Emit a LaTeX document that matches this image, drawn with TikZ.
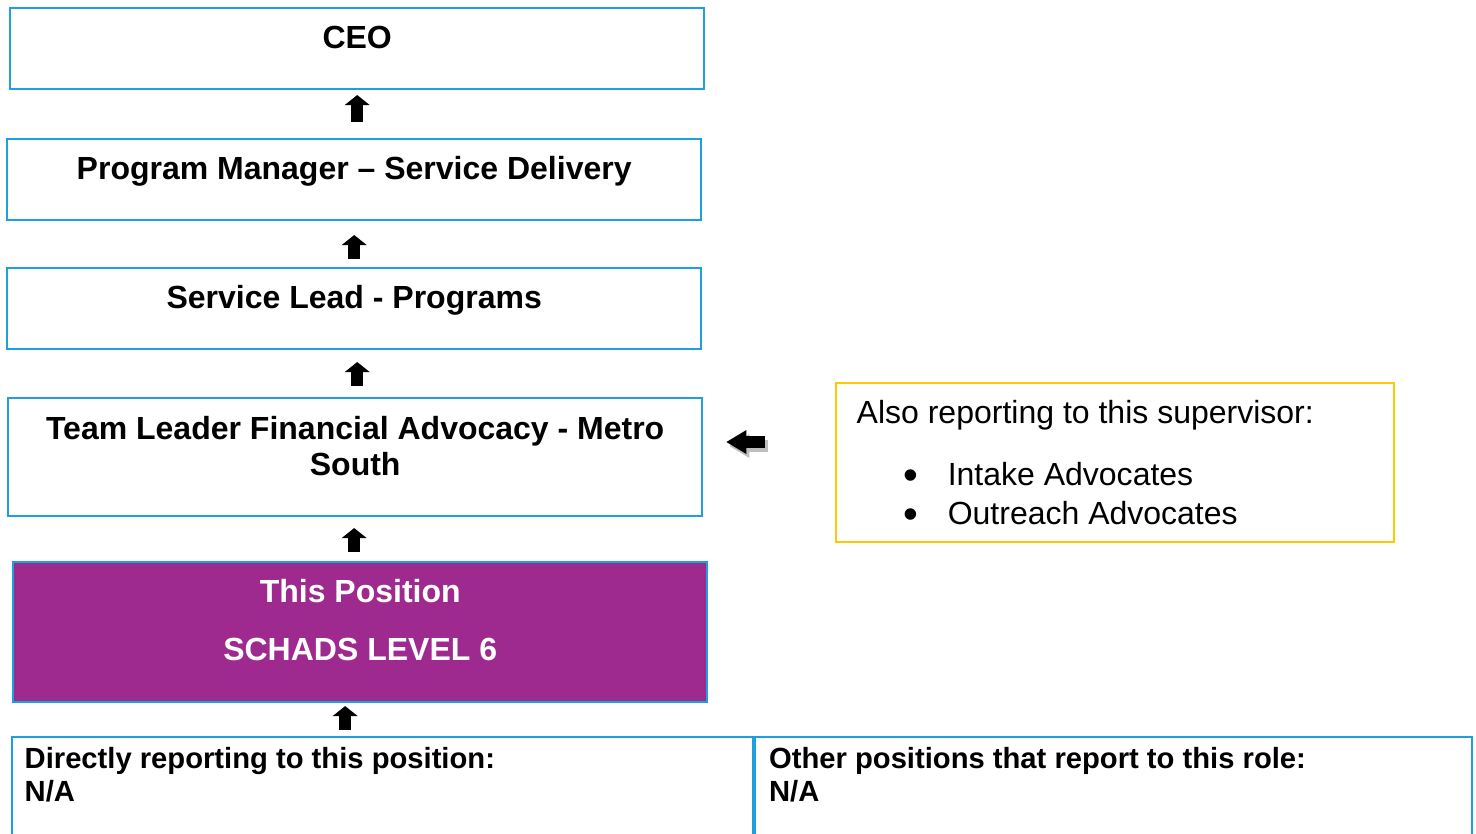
\documentclass[tikz,border=0pt]{standalone}
\usepackage{fontspec}
\setmainfont{Liberation Sans}
\usetikzlibrary{arrows.meta}
\usetikzlibrary{positioning}

\definecolor{boxblue}{RGB}{30,160,220}
\definecolor{posviolet}{RGB}{159,42,143}
\definecolor{noteyellow}{RGB}{255,200,0}
\definecolor{shadowgrey}{RGB}{190,190,190}

\newcommand{\blt}{\makebox[0.44cm][l]{\raisebox{-0.035cm}{\fontsize{12}{12}\selectfont •}}}

\begin{document}
\begin{tikzpicture}[x=0.01cm,y=-0.01cm,
  every node/.style={font=\fontsize{9.1}{10.3}\selectfont, inner sep=0pt},
  box/.style={draw=boxblue, line width=0.02cm, anchor=north west, minimum width=6.94cm, minimum height=0.81cm},
  title/.style={font=\fontsize{9.1}{10}\selectfont\bfseries, align=center},
  cell/.style={align=left, font=\fontsize{8.3}{9.4}\selectfont\bfseries},
  uparr/.style={line width=0.12cm, -{Triangle[length=0.1cm, width=0.25cm, line width=0pt]}},
  leftarr/.style={line width=0.12cm, -{Triangle[length=0.2cm, width=0.24cm, line width=0pt]}}]

\useasboundingbox (0,0) rectangle (1476,834);
\clip (0,0) rectangle (1476,834);

% line of supervisors
\node[box] (ceo) at (9,7) {};
\node[box] (pm) at (6,138) {};
\node[box] (sl) at (6,267) {};
\node[box, minimum height=1.18cm] (tl) at (7,397) {};
\node[box, fill=posviolet, minimum height=1.40cm] (tp) at (12,561) {};

\node[title, below=0.18cm of ceo.north] (ceo-t) {CEO};
\node[title, below=0.18cm of pm.north] (pm-t) {Program Manager – Service Delivery};
\node[title, below=0.18cm of sl.north] (sl-t) {Service Lead - Programs};
\node[title, below=0.19cm of tl.north] (tl-t) {Team Leader Financial Advocacy - Metro\\South};
\node[title, text=white, below=0.18cm of tp.north] (tp-t) {This Position};
\node[title, text=white, below=0.76cm of tp.north] (tp-l) {SCHADS LEVEL 6};

% reports
\node[box, minimum width=7.41cm, minimum height=1.2cm] (botl) at (11,736) {};
\node[box, minimum width=7.16cm, minimum height=1.2cm] (botr) at (botl.north east) {};
\node[cell, below right=0.11cm and 0.13cm of botl.north west] (botl-t) {Directly reporting to this position:\\N/A};
\node[cell, below right=0.11cm and 0.14cm of botr.north west] (botr-t) {Other positions that report to this role:\\N/A};

% same supervisor
\node[box, draw=noteyellow, minimum width=5.58cm, minimum height=1.59cm] (yl) at (835,382) {};
\node[below right=0.18cm and 0.21cm of yl.north west] (yl-t) {Also reporting to this supervisor:};
\node[align=left, font=\fontsize{9.1}{11}\selectfont, below right=0.80cm and 0.68cm of yl.north west] (yl-l) {\blt Intake Advocates\\\blt Outreach Advocates};

% arrows
\coordinate (feed) at ([xshift=-0.15cm]tp.south);
\coordinate (lead) at ([yshift=0.15cm]tl.east);
\draw[uparr, shorten <=0.16cm, shorten >=0.05cm] (pm.north -| ceo.south) -- (ceo.south);
\draw[uparr, shorten <=0.08cm, shorten >=0.14cm] (sl.north) -- (pm.south);
\draw[uparr, shorten <=0.11cm, shorten >=0.12cm] (tl.north -| ceo.south) -- (sl.south -| ceo.south);
\draw[uparr, shorten <=0.09cm, shorten >=0.11cm] (tp.north -| sl.south) -- (tl.south -| sl.south);
\draw[uparr, shorten <=0.06cm, shorten >=0.03cm] (botl.north -| feed) -- (feed);
\draw[leftarr, shadowgrey, transform canvas={shift={(0.03cm,-0.04cm)}}, shorten <=0.70cm, shorten >=0.23cm] (lead -| yl.west) -- (lead);
\draw[leftarr, shorten <=0.70cm, shorten >=0.23cm] (lead -| yl.west) -- (lead);

\end{tikzpicture}
\end{document}
